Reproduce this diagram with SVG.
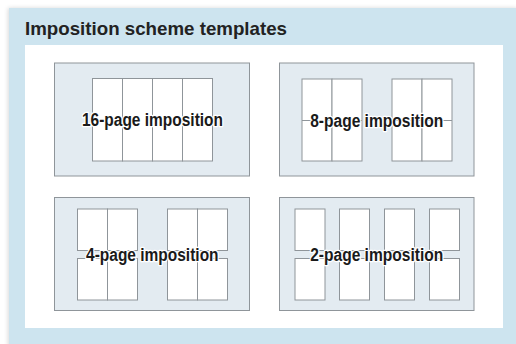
<svg xmlns="http://www.w3.org/2000/svg" width="516" height="344" viewBox="0 0 516 344">
<defs>
<filter id="sh" x="-5%" y="-5%" width="110%" height="110%">
<feDropShadow dx="-1" dy="0" stdDeviation="2" flood-color="#000" flood-opacity="0.15"/>
</filter>
</defs>
<style>
.box{fill:#e3ebf1;stroke:#8f959a;stroke-width:1}
.pg{fill:#ffffff;stroke:#8f959a;stroke-width:1}
.lbl{font-family:"Liberation Sans",Arial,sans-serif;font-weight:bold;font-size:17.5px;fill:#1a1a1a;stroke:#ffffff;stroke-width:2.6;stroke-linejoin:round;paint-order:stroke;text-anchor:middle}
.title{font-family:"Liberation Sans",Arial,sans-serif;font-weight:bold;font-size:18.5px;fill:#222222}
</style>
<rect x="0" y="0" width="516" height="344" fill="#ffffff"/>
<rect x="9" y="8" width="510" height="340" fill="#cde4ef" filter="url(#sh)"/>
<rect x="25" y="45" width="478" height="283" fill="#ffffff"/>
<text class="title" x="25" y="35" textLength="262" lengthAdjust="spacingAndGlyphs">Imposition scheme templates</text>

<g id="node-16page">
<rect class="box" x="54.5" y="63" width="195" height="113"/>
<rect class="pg" x="92.5" y="78.5" width="30" height="82.5"/>
<rect class="pg" x="122.5" y="78.5" width="30" height="82.5"/>
<rect class="pg" x="152.5" y="78.5" width="30" height="82.5"/>
<rect class="pg" x="182.5" y="78.5" width="30" height="82.5"/>
<text class="lbl" x="152.5" y="126.3" textLength="141" lengthAdjust="spacingAndGlyphs">16-page imposition</text>
</g>

<g id="node-8page">
<rect class="box" x="279.5" y="63" width="194.5" height="113"/>
<rect class="pg" x="302" y="79" width="30" height="82"/>
<rect class="pg" x="332" y="79" width="30" height="82"/>
<rect class="pg" x="392" y="79" width="30" height="82"/>
<rect class="pg" x="422" y="79" width="30" height="82"/>
<line x1="302" y1="120.5" x2="362" y2="120.5" stroke="#8f959a" stroke-width="1"/>
<line x1="392" y1="120.5" x2="452" y2="120.5" stroke="#8f959a" stroke-width="1"/>
<text class="lbl" x="376.7" y="126.8" textLength="133" lengthAdjust="spacingAndGlyphs">8-page imposition</text>
</g>

<g id="node-4page">
<rect class="box" x="54.5" y="197.5" width="195" height="113"/>
<rect class="pg" x="77.5" y="209" width="30" height="41.5"/>
<rect class="pg" x="107.5" y="209" width="30" height="41.5"/>
<rect class="pg" x="167.5" y="209" width="30" height="41.5"/>
<rect class="pg" x="197.5" y="209" width="30" height="41.5"/>
<rect class="pg" x="77.5" y="258.5" width="30" height="41.5"/>
<rect class="pg" x="107.5" y="258.5" width="30" height="41.5"/>
<rect class="pg" x="167.5" y="258.5" width="30" height="41.5"/>
<rect class="pg" x="197.5" y="258.5" width="30" height="41.5"/>
<text class="lbl" x="152.3" y="261.3" textLength="132.5" lengthAdjust="spacingAndGlyphs">4-page imposition</text>
</g>

<g id="node-2page">
<rect class="box" x="279.5" y="197.5" width="194.5" height="113"/>
<rect class="pg" x="295" y="209" width="30" height="41.5"/>
<rect class="pg" x="339.5" y="209" width="30" height="41.5"/>
<rect class="pg" x="384.5" y="209" width="30" height="41.5"/>
<rect class="pg" x="429.5" y="209" width="30" height="41.5"/>
<rect class="pg" x="295" y="258.5" width="30" height="41.5"/>
<rect class="pg" x="339.5" y="258.5" width="30" height="41.5"/>
<rect class="pg" x="384.5" y="258.5" width="30" height="41.5"/>
<rect class="pg" x="429.5" y="258.5" width="30" height="41.5"/>
<text class="lbl" x="376.7" y="261.3" textLength="133" lengthAdjust="spacingAndGlyphs">2-page imposition</text>
</g>

<g id="connectors"></g>
</svg>
